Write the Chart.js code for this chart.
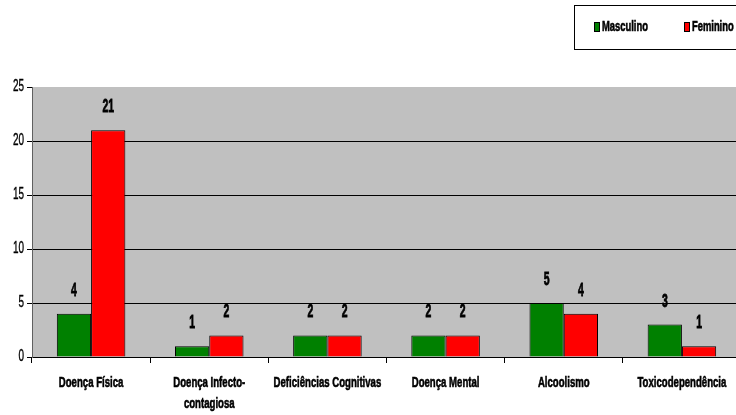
<!DOCTYPE html>
<html>
<head>
<meta charset="utf-8">
<script src="https://cdn.jsdelivr.net/npm/chart.js@4/dist/chart.umd.min.js"></script>
<style>
    html, body { margin: 0; padding: 0; background: #fff; overflow: hidden; }
</style>
</head>
<body>
<canvas id="barChart" width="741" height="415"></canvas>
<script>
// Data
const categories = ['Doença Física', ['Doença Infecto-', 'contagiosa'], 'Deficiências Cognitivas', 'Doença Mental', 'Alcoolismo', 'Toxicodependência'];
const masculino = [4, 1, 2, 2, 5, 3];
const feminino = [21, 2, 2, 2, 4, 1];
const seriesNames = ['Masculino', 'Feminino'];
const seriesColors = ['#008000', '#FF0000'];

const fontFamily = "'Liberation Sans', Arial, sans-serif";

// draw horizontally squeezed text (the original uses a very narrow font)
function narrowText(ctx, text, x, y, font, sx, align, heavy) {
    ctx.save();
    ctx.font = font;
    ctx.fillStyle = '#000';
    ctx.strokeStyle = '#000';
    ctx.textAlign = align;
    ctx.textBaseline = 'middle';
    ctx.translate(x, y);
    ctx.scale(sx, 1);
    ctx.fillText(text, 0, 0);
    if (heavy) {
        ctx.lineWidth = heavy;
        ctx.strokeText(text, 0, 0);
    }
    ctx.restore();
}

// Gray plot background
const plotBackground = {
    id: 'plotBackground',
    beforeDraw(chart) {
        const { ctx, chartArea } = chart;
        ctx.save();
        ctx.fillStyle = '#C0C0C0';
        ctx.fillRect(chartArea.left, chartArea.top, chartArea.right - chartArea.left, chartArea.bottom - chartArea.top);
        ctx.restore();
    }
};

// Axis labels, value labels and legend
const narrowLabels = {
    id: 'narrowLabels',
    afterDraw(chart) {
        const ctx = chart.ctx;
        const x = chart.scales.x, y = chart.scales.y;
        const area = chart.chartArea;

        // y tick labels
        y.ticks.forEach((t, i) => {
            narrowText(ctx, String(t.value), area.left - 8, y.getPixelForTick(i), '16px ' + fontFamily, 0.62, 'right', 0.4);
        });

        // x category labels
        chart.data.labels.forEach((lab, i) => {
            const lines = Array.isArray(lab) ? lab : [lab];
            lines.forEach((line, k) => {
                narrowText(ctx, line, x.getPixelForTick(i), area.bottom + 26 + k * 21, 'bold 15px ' + fontFamily, 0.64, 'center', 0.6);
            });
        });

        // values above bars
        chart.data.datasets.forEach((ds, i) => {
            chart.getDatasetMeta(i).data.forEach((bar, j) => {
                narrowText(ctx, String(ds.data[j]), bar.x, bar.y - 23, 'bold 18px ' + fontFamily, 0.58, 'center', 0.8);
            });
        });

        // legend
        ctx.save();
        ctx.strokeStyle = '#000';
        ctx.lineWidth = 1;
        ctx.strokeRect(574.5, 5.5, 200, 44);
        ctx.restore();
        const legendX = [594, 684];
        chart.data.datasets.forEach((ds, i) => {
            ctx.save();
            ctx.fillStyle = ds.backgroundColor;
            ctx.fillRect(legendX[i], 22, 6, 10);
            ctx.strokeStyle = '#000';
            ctx.strokeRect(legendX[i] + 0.5, 22.5, 5, 9);
            ctx.restore();
            narrowText(ctx, ds.label, legendX[i] + 8, 27, 'bold 14px ' + fontFamily, 0.67, 'left', 0.6);
        });
    }
};

const ctx = document.getElementById('barChart').getContext('2d');
const barChart = new Chart(ctx, {
    type: 'bar',
    data: {
        labels: categories,
        datasets: [
            {
                label: seriesNames[0],
                data: masculino,
                backgroundColor: seriesColors[0],
                borderColor: '#000',
                borderWidth: 1
            },
            {
                label: seriesNames[1],
                data: feminino,
                backgroundColor: seriesColors[1],
                borderColor: '#000',
                borderWidth: 1
            }
        ]
    },
    options: {
        responsive: false,
        animation: false,
        categoryPercentage: 0.58,
        barPercentage: 1,
        layout: { padding: { top: 87, left: 0, right: 0, bottom: 0 } },
        scales: {
            x: {
                offset: true,
                grid: { offset: true, drawOnChartArea: false, tickLength: 6, tickColor: '#000' },
                border: { color: '#000' },
                ticks: { display: false },
                afterFit(scale) { scale.height = 58; }
            },
            y: {
                min: 0,
                max: 25,
                ticks: { stepSize: 5, display: false },
                grid: {
                    color: c => (c.tick.value > 0 && c.tick.value < 25) ? '#000' : 'rgba(0,0,0,0)',
                    tickColor: '#000',
                    tickLength: 5
                },
                border: { color: '#606060' },
                afterFit(scale) { scale.width = 32; }
            }
        },
        plugins: {
            legend: { display: false },
            tooltip: { enabled: false }
        }
    },
    plugins: [plotBackground, narrowLabels]
});
</script>
</body>
</html>
